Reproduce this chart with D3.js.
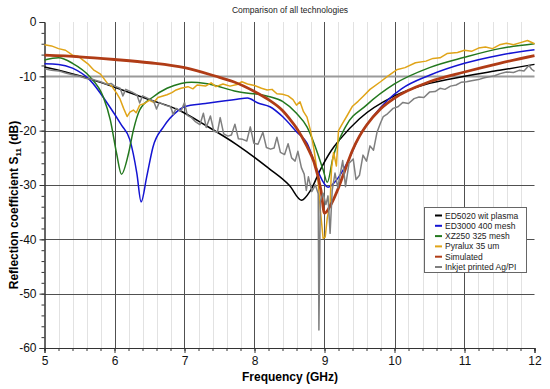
<!DOCTYPE html>
<html>
<head>
<meta charset="utf-8">
<script src="https://cdn.jsdelivr.net/npm/d3@7"></script>
<style>
  body { margin: 0; background: #fff; }
  text { font-family: "Liberation Sans", Arial, sans-serif; }
</style>
</head>
<body>
<div id="chart"></div>
<script>
// data: [frequency GHz, S11 dB]
var ed5020 = [[5.0,-8.3],[5.3,-9.2],[5.7,-10.7],[6.0,-12.0],[6.5,-14.3],[6.9,-16.1],[7.3,-19.0],
  [7.75,-22.6],[8.2,-26.9],[8.5,-30.1],[8.67,-32.8],[8.8,-31.0],[8.94,-27.2],[9.1,-23.6],
  [9.22,-21.6],[9.5,-17.8],[10.0,-13.6],[10.5,-11.3],[11.0,-10.0],[11.5,-8.9],[12.0,-7.8]]

var ed3000 = [[5.0,-7.7],[5.2,-7.8],[5.4,-8.5],[5.65,-10.7],[5.9,-15.0],[6.1,-19.0],[6.22,-21.7],
  [6.32,-27.9],[6.38,-33.1],[6.46,-28.5],[6.55,-23.0],[6.7,-19.3],[6.9,-16.4],[7.0,-15.6],
  [7.3,-15.0],[7.75,-14.2],[7.9,-14.0],[8.05,-14.9],[8.22,-15.6],[8.4,-17.4],[8.6,-20.2],
  [8.75,-22.3],[8.9,-27.3],[9.05,-30.4],[9.17,-29.1],[9.32,-26.0],[9.5,-21.0],[9.7,-17.3],
  [9.9,-14.4],[10.1,-12.3],[10.5,-9.8],[11.0,-7.6],[11.5,-6.1],[12.0,-5.1]]

var xz250 = [[5.0,-7.0],[5.2,-6.6],[5.4,-7.6],[5.65,-10.1],[5.84,-13.8],[5.94,-18.0],[6.03,-24.2],
  [6.1,-28.0],[6.2,-24.2],[6.27,-19.9],[6.36,-16.2],[6.55,-13.8],[6.75,-12.2],[6.95,-11.3],
  [7.1,-11.1],[7.3,-11.3],[7.75,-12.8],[8.2,-13.7],[8.4,-14.6],[8.6,-16.8],[8.75,-19.3],
  [8.85,-22.3],[8.98,-27.2],[9.04,-29.5],[9.12,-25.0],[9.3,-19.3],[9.6,-15.3],[10.0,-11.4],
  [10.5,-8.4],[11.0,-6.5],[11.5,-4.9],[12.0,-4.0]]

var pyralux = [[5.0,-4.2],[5.1,-4.4],[5.2,-4.9],[5.3,-5.2],[5.4,-6.1],[5.48,-6.3],[5.55,-7.0],
  [5.62,-7.7],[5.7,-8.8],[5.8,-9.6],[5.9,-11.3],[5.96,-11.8],[6.03,-13.1],[6.08,-14.2],
  [6.13,-15.9],[6.18,-17.4],[6.22,-16.6],[6.27,-16.2],[6.31,-16.7],[6.36,-15.3],[6.43,-15.0],
  [6.5,-14.4],[6.56,-14.8],[6.62,-13.9],[6.75,-13.4],[6.82,-13.0],[6.88,-12.5],[6.95,-12.2],
  [7.05,-11.9],[7.12,-12.3],[7.18,-11.6],[7.3,-11.8],[7.38,-11.2],[7.45,-11.9],[7.55,-11.4],
  [7.65,-11.8],[7.75,-11.5],[7.82,-11.0],[7.9,-11.4],[8.0,-11.7],[8.1,-12.2],[8.18,-12.5],
  [8.25,-12.4],[8.32,-13.2],[8.4,-13.3],[8.48,-13.6],[8.55,-14.3],[8.6,-15.3],[8.65,-14.7],
  [8.7,-16.5],[8.75,-17.5],[8.8,-20.0],[8.85,-23.5],[8.9,-28.0],[8.94,-34.5],[8.98,-39.8],
  [9.01,-39.6],[9.04,-36.0],[9.08,-33.4],[9.1,-27.0],[9.13,-24.0],[9.17,-26.5],[9.2,-20.0],
  [9.26,-18.6],[9.32,-17.3],[9.4,-15.5],[9.48,-14.6],[9.55,-13.7],[9.65,-12.4],[9.8,-11.0],
  [9.9,-10.0],[10.03,-8.8],[10.15,-8.4],[10.3,-7.5],[10.45,-7.2],[10.55,-6.7],[10.65,-6.6],
  [10.75,-5.8],[10.9,-5.6],[11.0,-5.2],[11.1,-5.4],[11.2,-4.8],[11.3,-4.6],[11.4,-4.9],
  [11.5,-4.2],[11.6,-3.9],[11.7,-4.2],[11.8,-3.8],[11.9,-3.4],[12.0,-4.0]]

var simulated = [[5.0,-6.1],[5.5,-6.4],[6.0,-6.9],[6.5,-7.5],[7.0,-8.4],[7.5,-10.2],[7.7,-11.0],
  [8.0,-12.8],[8.2,-14.3],[8.4,-16.3],[8.5,-17.8],[8.6,-19.5],[8.75,-22.9],[8.85,-25.8],
  [8.95,-31.0],[9.0,-35.2],[9.1,-33.4],[9.2,-30.5],[9.3,-27.0],[9.4,-23.6],[9.5,-21.0],
  [9.6,-19.0],[9.8,-16.0],[10.0,-14.0],[10.5,-11.0],[11.0,-9.2],[11.5,-7.6],[12.0,-6.2]]

var inkjet = [[5.0,-8.6],[5.1,-8.9],[5.2,-9.0],[5.3,-9.4],[5.4,-9.7],[5.5,-10.0],[5.6,-10.4],
  [5.7,-10.6],[5.8,-11.0],[5.9,-11.5],[5.95,-11.3],[6.0,-11.8],[6.08,-12.2],[6.12,-13.6],
  [6.16,-12.4],[6.25,-12.9],[6.32,-13.4],[6.36,-14.9],[6.4,-13.6],[6.5,-14.2],[6.56,-14.6],
  [6.6,-16.0],[6.64,-14.8],[6.72,-15.3],[6.8,-15.6],[6.84,-17.0],[6.88,-15.9],[6.95,-16.4],
  [7.0,-14.8],[7.04,-17.2],[7.1,-17.6],[7.16,-18.4],[7.22,-18.9],[7.27,-16.8],[7.31,-19.4],
  [7.37,-17.3],[7.42,-20.1],[7.47,-20.3],[7.51,-17.6],[7.56,-20.6],[7.62,-21.0],[7.67,-20.8],
  [7.72,-18.8],[7.77,-21.5],[7.83,-21.6],[7.89,-21.9],[7.94,-19.3],[7.99,-22.3],[8.05,-22.5],
  [8.12,-20.3],[8.17,-23.1],[8.23,-23.4],[8.28,-23.2],[8.32,-21.2],[8.37,-24.0],[8.43,-24.4],
  [8.48,-22.4],[8.53,-25.0],[8.58,-25.6],[8.62,-23.8],[8.67,-26.8],[8.71,-28.0],[8.74,-31.0],
  [8.77,-28.5],[8.82,-31.2],[8.87,-30.0],[8.91,-31.6],[8.92,-56.7],[8.94,-33.0],[8.98,-31.5],
  [9.02,-33.6],[9.05,-32.0],[9.08,-38.9],[9.11,-31.0],[9.15,-27.8],[9.19,-30.5],[9.22,-28.3],
  [9.26,-25.5],[9.3,-30.3],[9.35,-26.0],[9.41,-25.2],[9.45,-29.0],[9.5,-28.2],[9.55,-24.5],
  [9.6,-25.6],[9.65,-22.8],[9.7,-23.6],[9.75,-20.3],[9.8,-18.6],[9.84,-17.4],[9.9,-16.9],
  [9.98,-15.9],[10.05,-15.6],[10.12,-14.8],[10.2,-15.0],[10.28,-14.1],[10.35,-13.8],
  [10.42,-13.9],[10.5,-12.9],[10.58,-12.8],[10.65,-12.2],[10.72,-12.4],[10.8,-11.8],
  [10.88,-11.6],[10.95,-11.1],[11.03,-11.0],[11.1,-10.8],[11.2,-10.6],[11.27,-10.3],
  [11.35,-10.1],[11.43,-9.9],[11.51,-9.5],[11.6,-9.2],[11.7,-9.3],[11.78,-8.9],[11.85,-9.0],
  [11.92,-8.0],[11.96,-8.7],[12.0,-9.1]]

var seriesNames = ["ED5020 wit plasma", "ED3000 400 mesh", "XZ250 325 mesh",
  "Pyralux 35 um", "Simulated", "Inkjet printed Ag/PI"]
var seriesColors = ["#000000", "#1414d2", "#23781e", "#e0a418", "#b03c16", "#7f7f7f"]
var seriesWidths = [1.5, 1.5, 1.5, 1.5, 2.8, 1.5]
var xTicks = [5, 6, 7, 8, 9, 10, 11, 12]
var yTicks = [0, -10, -20, -30, -40, -50, -60]

var allSeries = [ed5020, ed3000, xz250, pyralux, simulated, inkjet]

var width = 550, height = 389
var plotLeft = 44.5, plotRight = 534.5, plotTop = 22, plotBottom = 348

var svg = d3.select("#chart").append("svg")
  .attr("width", width)
  .attr("height", height)

var x = d3.scaleLinear().domain([5, 12]).range([plotLeft, plotRight])
var y = d3.scaleLinear().domain([0, -60]).range([plotTop, plotBottom])

// minor vertical grid every 0.2 GHz
var minorX = d3.range(5.2, 12, 0.2).filter(function (d) { return Math.abs(d - Math.round(d)) > 0.01 })
svg.append("g").selectAll("line")
  .data(minorX)
  .enter().append("line")
  .attr("x1", function (d) { return Math.round(x(d)) + 0.5 })
  .attr("x2", function (d) { return Math.round(x(d)) + 0.5 })
  .attr("y1", plotTop).attr("y2", plotBottom)
  .attr("stroke", "#e2e2e2")

// major grid
svg.append("g").selectAll("line")
  .data(xTicks.slice(1, -1))
  .enter().append("line")
  .attr("x1", function (d) { return Math.round(x(d)) + 0.5 })
  .attr("x2", function (d) { return Math.round(x(d)) + 0.5 })
  .attr("y1", plotTop).attr("y2", plotBottom)
  .attr("stroke", "#505050")

svg.append("g").selectAll("line")
  .data(yTicks.slice(1, -1))
  .enter().append("line")
  .attr("x1", plotLeft).attr("x2", plotRight)
  .attr("y1", function (d) { return Math.round(y(d)) + 0.5 })
  .attr("y2", function (d) { return Math.round(y(d)) + 0.5 })
  .attr("stroke", function (d) { return d == -10 ? "#9a9a9a" : "#505050" })
  .attr("stroke-width", function (d) { return d == -10 ? 2 : 1 })

// axes
var yAxisMinor = d3.axisLeft(y).tickValues(d3.range(0, -61, -2)).tickSize(3).tickFormat("")
var yAxis = d3.axisLeft(y).tickValues(yTicks).tickSize(5).tickFormat(function (d) { return String(d) })
var xAxisMinor = d3.axisBottom(x).tickValues(d3.range(5, 12.01, 0.2)).tickSize(3).tickFormat("")
var xAxis = d3.axisBottom(x).tickValues(xTicks).tickSize(5).tickFormat(function (d) { return String(d) })

svg.append("g").attr("class", "axis")
  .attr("transform", "translate(" + plotLeft + ",0)")
  .call(yAxisMinor)
svg.append("g").attr("class", "axis")
  .attr("transform", "translate(" + plotLeft + ",0)")
  .call(yAxis)
svg.append("g").attr("class", "axis")
  .attr("transform", "translate(0," + plotBottom + ")")
  .call(xAxisMinor)
svg.append("g").attr("class", "axis")
  .attr("transform", "translate(0," + plotBottom + ")")
  .call(xAxis)

svg.selectAll(".axis path").attr("stroke", "#333")
svg.selectAll(".axis line").attr("stroke", "#333")
svg.selectAll(".axis text")
  .attr("font-family", "Liberation Sans, Arial, sans-serif")
  .attr("font-size", 12)
  .attr("fill", "#111")

// the curves
var line = d3.line()
  .x(function (d) { return x(d[0]) })
  .y(function (d) { return y(d[1]) })

allSeries.forEach(function (data, i) {
  svg.append("path")
    .datum(data)
    .attr("fill", "none")
    .attr("stroke", seriesColors[i])
    .attr("stroke-width", seriesWidths[i])
    .attr("stroke-linejoin", "round")
    .attr("d", (i == 3 || i == 5) ? line.curve(d3.curveLinear) : line.curve(d3.curveMonotoneX))
})

// titles
svg.append("text")
  .attr("x", 290).attr("y", 13)
  .attr("text-anchor", "middle")
  .attr("font-size", 8.5)
  .attr("fill", "#222")
  .text("Comparison of all technologies")

svg.append("text")
  .attr("x", 290).attr("y", 381)
  .attr("text-anchor", "middle")
  .attr("font-size", 12)
  .attr("font-weight", "bold")
  .text("Frequency (GHz)")

var yLabel = svg.append("text")
  .attr("transform", "translate(18,205) rotate(-90)")
  .attr("text-anchor", "middle")
  .attr("font-family", "DejaVu Sans, sans-serif")
  .attr("font-size", 12)
  .attr("font-weight", "bold")
yLabel.append("tspan").text("Reflection coefficient S")
yLabel.append("tspan").attr("font-size", 8).attr("dy", 3).text("11")
yLabel.append("tspan").attr("dy", -3).text(" (dB)")

// legend
var legend = svg.append("g").attr("transform", "translate(424,207)")
legend.append("rect")
  .attr("x", 0.5).attr("y", 0.5)
  .attr("width", 102).attr("height", 65)
  .attr("fill", "#fff")
  .attr("stroke", "#666")

legend.selectAll(".item")
  .data(seriesNames)
  .enter().append("g")
  .attr("class", "item")
  .attr("transform", function (d, i) { return "translate(0," + (8.5 + i * 10.3) + ")" })
  .each(function (d, i) {
    var g = d3.select(this)
    g.append("line")
      .attr("x1", 11).attr("x2", 18)
      .attr("y1", 0).attr("y2", 0)
      .attr("stroke", seriesColors[i])
      .attr("stroke-width", 2)
    g.append("text")
      .attr("x", 21).attr("y", 3)
      .attr("font-size", 8.5)
      .attr("fill", "#222")
      .text(d)
  })
</script>
</body>
</html>
